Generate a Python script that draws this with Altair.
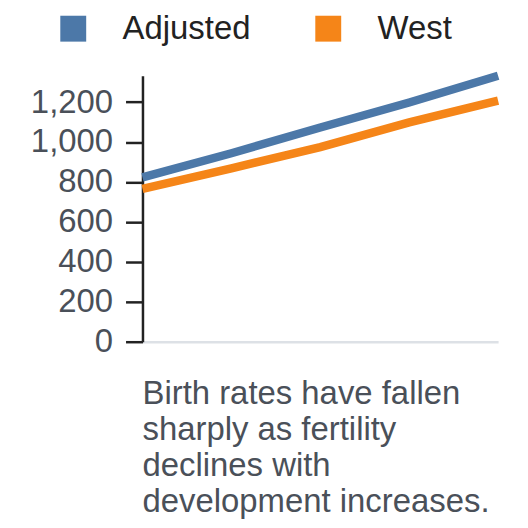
import altair as alt
import pandas as pd

steps = [0, 1, 2, 3, 4]
adjusted = [823, 944, 1073, 1198, 1332]
west = [765, 868, 975, 1098, 1207]
series_names = ["Adjusted", "West"]
title_lines = ["Birth rates have fallen", "sharply as fertility", "declines with", "development increases."]

rows = []
for s, a, w in zip(steps, adjusted, west):
    rows.append({"step": s, "value": a, "series": series_names[0]})
    rows.append({"step": s, "value": w, "series": series_names[1]})
df = pd.DataFrame(rows)

FONT = "Liberation Sans"
COLORS = ["#4c78a8", "#f58518"]

chart = alt.Chart(df).mark_line(strokeWidth=8.5).encode(
    x=alt.X("step:Q", scale=alt.Scale(domain=[0, 4], nice=False),
            axis=alt.Axis(title=None, labels=False, ticks=False, grid=False,
                          domainColor="#dde1e6", domainWidth=2.5)),
    y=alt.Y("value:Q", scale=alt.Scale(domain=[0, 1332], nice=False),
            axis=alt.Axis(title=None, grid=False, values=[0, 200, 400, 600, 800, 1000, 1200],
                          format=",.0f", labelFontSize=33, labelFont=FONT, labelColor="#4a5059",
                          tickSize=17, tickWidth=2.5, tickColor="#222",
                          domainColor="#222", domainWidth=2.5, labelPadding=13)),
    color=alt.Color("series:N", sort=series_names,
                    scale=alt.Scale(domain=series_names, range=COLORS),
                    legend=alt.Legend(title=None, orient="none", direction="horizontal",
                                      legendX=-86, legendY=-64,
                                      symbolType="square", symbolSize=4, symbolStrokeWidth=24,
                                      labelFontSize=33, labelFont=FONT, labelColor="#222",
                                      labelOffset=33, columnPadding=28)),
).properties(
    width=357,
    height=267,
    padding={"left": 22, "top": 3, "right": 5, "bottom": 5},
    title=alt.TitleParams(title_lines, orient="bottom", anchor="start", frame="group",
                          fontSize=33, font=FONT, fontWeight="normal", color="#4a5059",
                          lineHeight=36, offset=20),
).configure_view(stroke=None)

chart.save("out.html", embed_options={"renderer": "svg", "actions": False})
